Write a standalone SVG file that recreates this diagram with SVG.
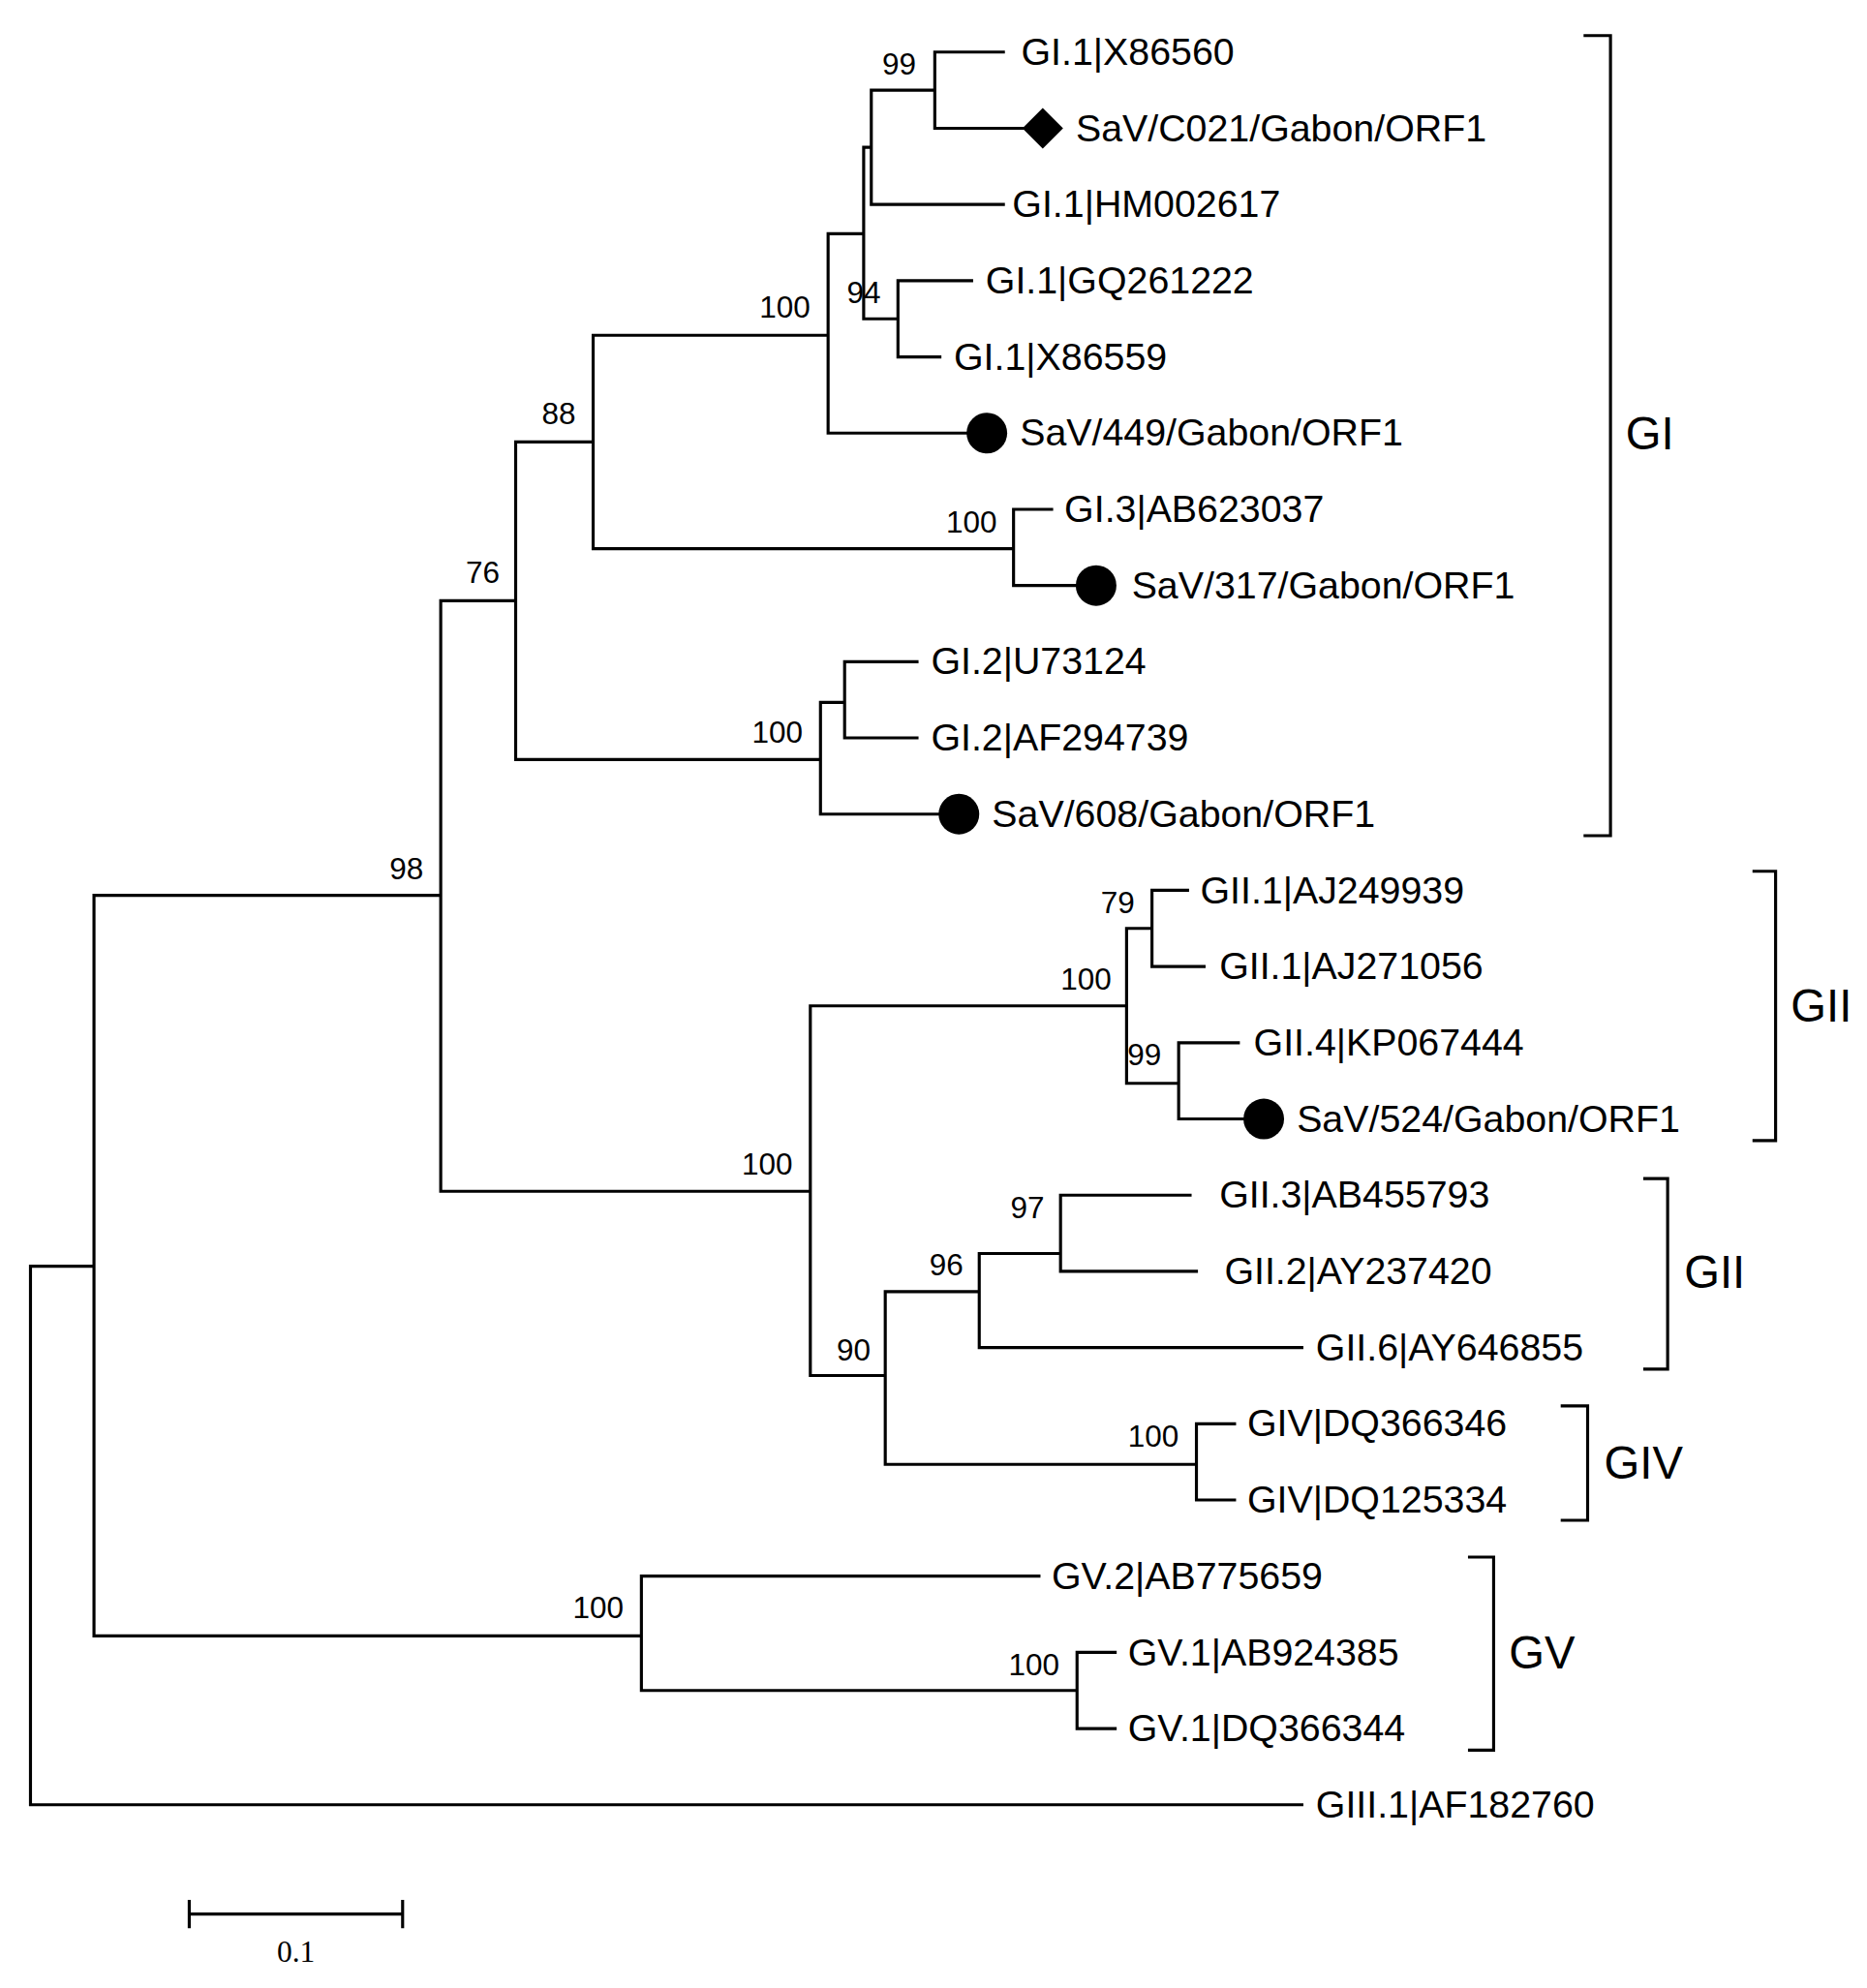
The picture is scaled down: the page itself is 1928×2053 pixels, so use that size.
<svg xmlns="http://www.w3.org/2000/svg" width="1928" height="2053" viewBox="0 0 1928 2053">
<style>
.e{fill:none;stroke:#000;stroke-width:2.4;stroke-linecap:square}
.l{font-family:"Liberation Sans",Arial,sans-serif;font-size:30px;fill:#000}
.b{font-family:"Liberation Sans",Arial,sans-serif;font-size:24px;fill:#000;text-anchor:middle}
.g{font-family:"Liberation Sans",Arial,sans-serif;font-size:36px;fill:#000}
</style>
<rect width="1928" height="2053" fill="#fff"/>
<g transform="scale(1.3116)">
<g id="connectors">
<path class="e" d="M24 997V1421M24 997H74M74 705V1288M74 705H347M347 473V938M347 473H406M406 348V598M406 348H467M467 264V432M467 264H652M652 184V341M652 184H680M680 116V251M680 116H686M686 71V161M686 71H736M736 41V101M736 41H790M736 101H805M686 161H790M680 251H707M707 221V281M707 221H765M707 281H740M652 341H763M467 432H798M798 401V461M798 401H828M798 461H848M406 598H646M646 553V641M646 553H665M665 521V581M665 521H722M665 581H722M646 641H740M347 938H638M638 792V1083M638 792H887M887 731V853M887 731H907M907 701V761M907 701H935M907 761H948M887 853H928M928 821V881M928 821H975M928 881H980M638 1083H697M697 1017V1153M697 1017H771M771 987V1061M771 987H835M835 941V1001M835 941H937M835 1001H942M771 1061H1025M697 1153H942M942 1121V1181M942 1121H972M942 1181H972M74 1288H505M505 1241V1331M505 1241H818M505 1331H848M848 1301V1361M848 1301H878M848 1361H878M24 1421H1025"/>
</g>
<g id="markers">
<path d="M821 85L837 101L821 117L805 101Z" fill="#000"/>
<circle cx="777" cy="341" r="16"/>
<circle cx="863" cy="461" r="16"/>
<circle cx="755" cy="641" r="16"/>
<circle cx="995" cy="881" r="16"/>
</g>
<g id="leaves">
<text class="l" x="804" y="51">GI.1|X86560</text>
<text class="l" x="847" y="111">SaV/C021/Gabon/ORF1</text>
<text class="l" x="797" y="171">GI.1|HM002617</text>
<text class="l" x="776" y="231">GI.1|GQ261222</text>
<text class="l" x="751" y="291">GI.1|X86559</text>
<text class="l" x="803" y="351">SaV/449/Gabon/ORF1</text>
<text class="l" x="838" y="411">GI.3|AB623037</text>
<text class="l" x="891" y="471">SaV/317/Gabon/ORF1</text>
<text class="l" x="733" y="531">GI.2|U73124</text>
<text class="l" x="733" y="591">GI.2|AF294739</text>
<text class="l" x="781" y="651">SaV/608/Gabon/ORF1</text>
<text class="l" x="945" y="711">GII.1|AJ249939</text>
<text class="l" x="960" y="771">GII.1|AJ271056</text>
<text class="l" x="987" y="831">GII.4|KP067444</text>
<text class="l" x="1021" y="891">SaV/524/Gabon/ORF1</text>
<text class="l" x="960" y="951">GII.3|AB455793</text>
<text class="l" x="964" y="1011">GII.2|AY237420</text>
<text class="l" x="1036" y="1071">GII.6|AY646855</text>
<text class="l" x="982" y="1131">GIV|DQ366346</text>
<text class="l" x="982" y="1191">GIV|DQ125334</text>
<text class="l" x="828" y="1251">GV.2|AB775659</text>
<text class="l" x="888" y="1311">GV.1|AB924385</text>
<text class="l" x="888" y="1371">GV.1|DQ366344</text>
<text class="l" x="1036" y="1431">GIII.1|AF182760</text>
</g>
<g id="bootstrap">
<text class="b" x="708" y="59">99</text>
<text class="b" x="680" y="239">94</text>
<text class="b" x="618" y="250">100</text>
<text class="b" x="440" y="334">88</text>
<text class="b" x="380" y="459">76</text>
<text class="b" x="320" y="692">98</text>
<text class="b" x="765" y="419">100</text>
<text class="b" x="612" y="585">100</text>
<text class="b" x="880" y="719">79</text>
<text class="b" x="855" y="779">100</text>
<text class="b" x="901" y="839">99</text>
<text class="b" x="604" y="925">100</text>
<text class="b" x="809" y="959">97</text>
<text class="b" x="745" y="1004">96</text>
<text class="b" x="672" y="1071">90</text>
<text class="b" x="908" y="1139">100</text>
<text class="b" x="471" y="1274">100</text>
<text class="b" x="814" y="1319">100</text>
</g>
<g id="brackets">
<path class="e" d="M1248 28H1268V658H1248M1381 686H1398V898H1381M1295 928H1313V1078H1295M1230 1107H1250V1197H1230M1157 1226H1176V1378H1157"/>
<text class="g" x="1280" y="354">GI</text>
<text class="g" x="1410" y="804">GII</text>
<text class="g" x="1326" y="1014">GII</text>
<text class="g" x="1263" y="1164">GIV</text>
<text class="g" x="1188" y="1314">GV</text>
</g>
<g id="scale">
<path class="e" d="M149 1507H317M149 1497V1517M317 1497V1517"/>
<text x="233" y="1545" font-family="Liberation Serif,serif" font-size="24" text-anchor="middle">0.1</text>
</g>
</g>
</svg>
